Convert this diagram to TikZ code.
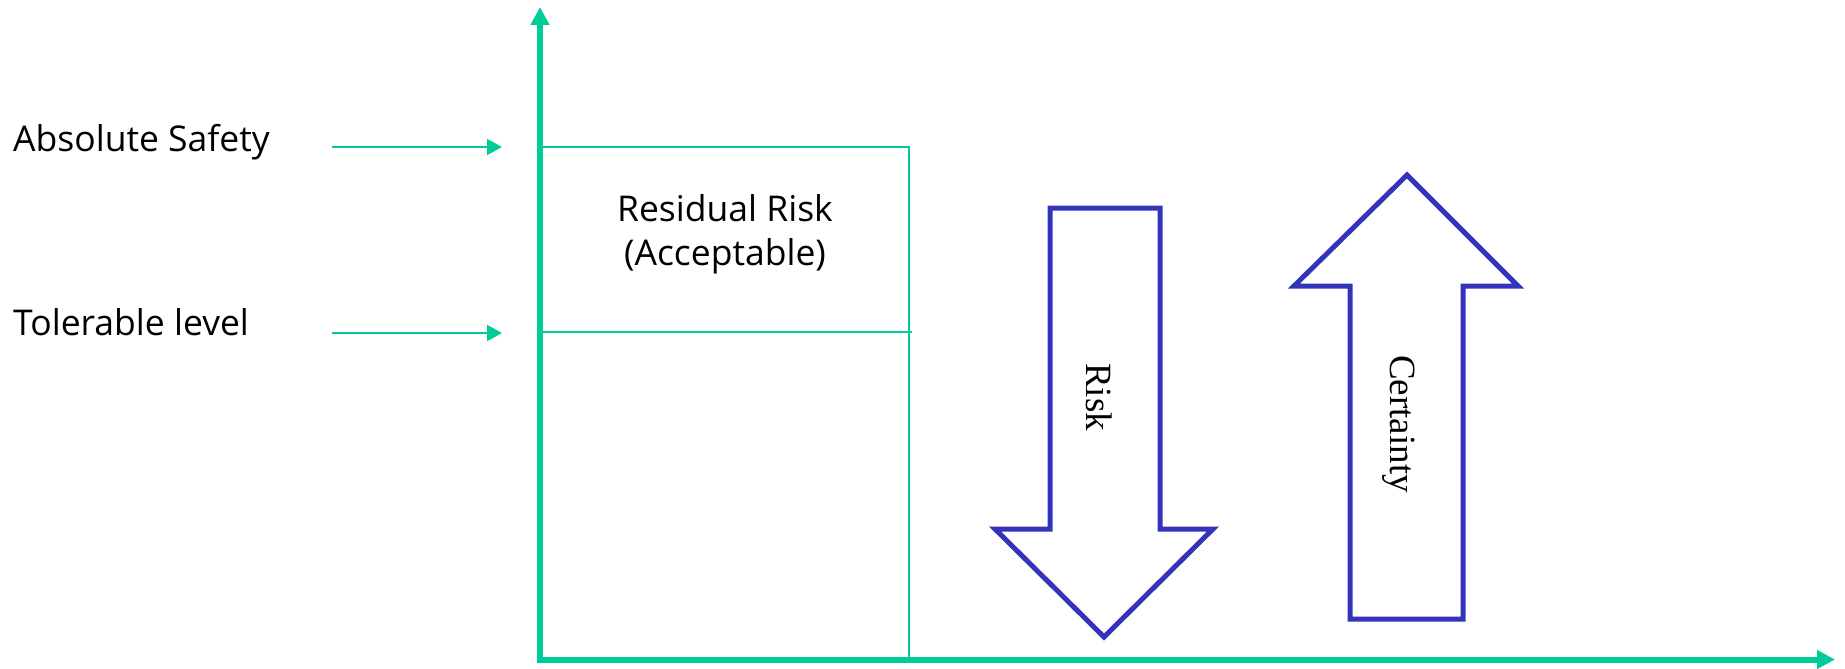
\documentclass[tikz,border=0pt]{standalone}
\usepackage{fontspec}
\setmainfont{Open Sans}
\newfontfamily\timesf{Liberation Serif}
\usetikzlibrary{arrows.meta}
\definecolor{grn}{RGB}{0,204,153}
\definecolor{blu}{RGB}{51,51,187}
\begin{document}
\begin{tikzpicture}[x=1pt,y=-1pt,
  axisline/.style={draw=grn,line width=6pt,-{Triangle[length=18pt,width=18pt]}},
  ptr/.style={draw=grn,line width=2pt,-{Triangle[length=15pt,width=16pt]}},
  thinline/.style={draw=grn,line width=1.5pt},
  blockarrow/.style={draw=blu,line width=5pt,fill=white,line join=miter},
  lbl/.style={inner sep=0pt,font=\fontsize{35.5}{44}\selectfont},
  serif/.style={inner sep=0pt,font=\timesf\fontsize{37}{44}\selectfont,rotate=-90}]
\useasboundingbox (0,0) rectangle (1845,669);
% axes
\coordinate (ybot) at (540,662);
\coordinate (ytop) at (540,7);
\coordinate (xstart) at (537,659.5);
\coordinate (xend) at (1835,659.5);
\draw[axisline] (ybot) -- (ytop);
\draw[axisline] (xstart) -- (xend);
% residual region
\coordinate (btl) at (543,147);
\coordinate (btr) at (909,147);
\coordinate (bbr) at (909,659);
\coordinate (bml) at (543,332);
\coordinate (bmr) at (912,332);
\draw[thinline] (btl) -- (btr) -- (bbr);
\draw[thinline] (bml) -- (bmr);
\node[lbl,align=center] (resid) at (725,234) {Residual Risk\\(Acceptable)};
% left labels and pointers
\node[lbl,anchor=base west] (abs) at (13,151) {Absolute Safety};
\node[lbl,anchor=base west] (tol) at (13,335) {Tolerable level};
\coordinate (p1s) at (332,147);
\coordinate (p1e) at (502,147);
\coordinate (p2s) at (332,333);
\coordinate (p2e) at (502,333);
\draw[ptr] (p1s) -- (p1e);
\draw[ptr] (p2s) -- (p2e);
% risk arrow (down)
\draw[blockarrow] (1050,208) -- (1160,208) -- (1160,529) -- (1213,529) -- (1104,637)
  -- (995,529) -- (1050,529) -- cycle;
\node[serif] (risk) at (1099,397) {Risk};
% certainty arrow (up)
\draw[blockarrow] (1350,619) -- (1463,619) -- (1463,286) -- (1518,286) -- (1407,175)
  -- (1294,286) -- (1350,286) -- cycle;
\node[serif] (cert) at (1399,424) {Certainty};
\end{tikzpicture}
\end{document}
